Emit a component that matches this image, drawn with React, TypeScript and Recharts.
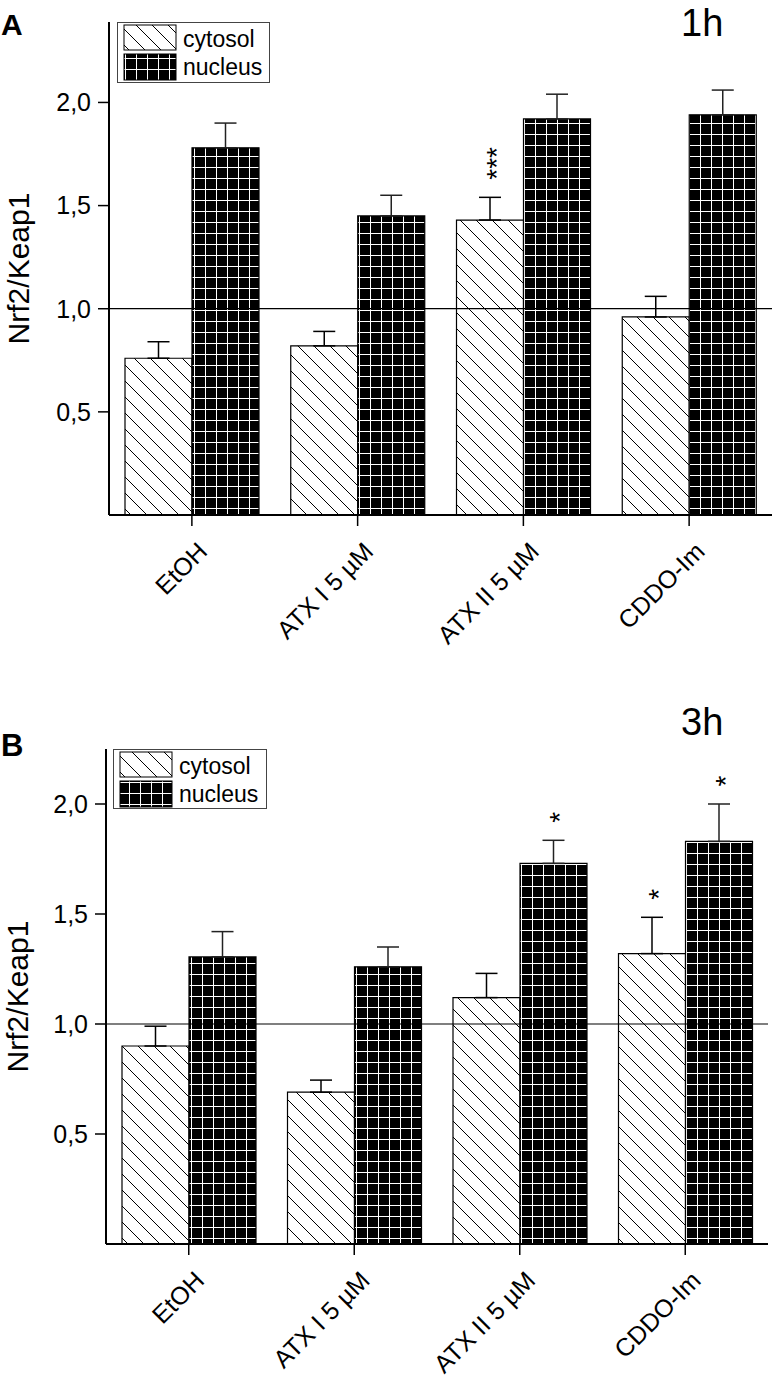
import React from "react";
import {
  Bar,
  BarChart,
  ErrorBar,
  Label,
  LabelList,
  Legend,
  ReferenceLine,
  XAxis,
  YAxis,
} from "recharts";

const FONT = '"Liberation Sans", Arial, Helvetica, sans-serif';

const groups = ["EtOH", "ATX I 5 µM", "ATX II 5 µM", "CDDO-Im"];
const yTicks = [0.5, 1, 1.5, 2];

// 1h
const cytosol1h = [0.76, 0.82, 1.43, 0.96];
const cytosolErr1h = [0.08, 0.07, 0.11, 0.1];
const nucleus1h = [1.78, 1.45, 1.92, 1.94];
const nucleusErr1h = [0.12, 0.1, 0.12, 0.12];
const cytosolSig1h = ["", "", "***", ""];
const nucleusSig1h = ["", "", "", ""];

// 3h
const cytosol3h = [0.9, 0.69, 1.12, 1.32];
const cytosolErr3h = [0.09, 0.055, 0.11, 0.165];
const nucleus3h = [1.305, 1.26, 1.73, 1.83];
const nucleusErr3h = [0.115, 0.09, 0.105, 0.17];
const cytosolSig3h = ["", "", "", "*"];
const nucleusSig3h = ["", "", "*", "*"];

type Row = {
  name: string;
  cyt: number;
  cytErr: number[];
  nuc: number;
  nucErr: number[];
  cytSig: string;
  nucSig: string;
};

function buildRows(
  cyt: number[],
  cytErr: number[],
  nuc: number[],
  nucErr: number[],
  cytSig: string[],
  nucSig: string[]
): Row[] {
  return groups.map((name, i) => ({
    name,
    cyt: cyt[i],
    cytErr: [0, cytErr[i]],
    nuc: nuc[i],
    nucErr: [0, nucErr[i]],
    cytSig: cytSig[i],
    nucSig: nucSig[i],
  }));
}

const rows1h = buildRows(cytosol1h, cytosolErr1h, nucleus1h, nucleusErr1h, cytosolSig1h, nucleusSig1h);
const rows3h = buildRows(cytosol3h, cytosolErr3h, nucleus3h, nucleusErr3h, cytosolSig3h, nucleusSig3h);

function CategoryTick(props: any) {
  const { x, y, payload } = props;
  const ax = x + 17;
  const ay = y + 25;
  return (
    <text
      x={ax}
      y={ay}
      transform={`rotate(-45 ${ax} ${ay})`}
      textAnchor="end"
      fontFamily={FONT}
      fontSize={25}
      fill="#000"
    >
      {payload.value}
    </text>
  );
}

// stars sit above the error bar; bar height / value gives px per unit.
// drawn as one vertical string so stacked stars stay one text
function starLabel(rows: Row[], key: "cyt" | "nuc") {
  return (props: any) => {
    const { index, value } = props;
    if (!value) return null;
    const vb = props.viewBox ?? props;
    const row = rows[index];
    const errKey = key === "cyt" ? "cytErr" : "nucErr";
    const perUnit = Math.abs(vb.height) / row[key];
    const errTop = vb.y - row[errKey][1] * perUnit;
    const cx = vb.x + vb.width / 2;
    const n = String(value).length;
    const midY = errTop - 23 - ((n - 1) * 11) / 2;
    const bx = cx + 16;
    return (
      <text
        x={bx}
        y={midY}
        transform={`rotate(-90 ${bx} ${midY})`}
        fontFamily={FONT}
        fontSize={28}
        textAnchor="middle"
        fill="#000"
      >
        {value}
      </text>
    );
  };
}

function LegendBox({ hatch, grid, w, h }: { hatch: string; grid: string; w: number; h: number }) {
  return (
    <div
      style={{
        width: w,
        height: h,
        border: "1px solid #444",
        boxSizing: "border-box",
        background: "#fff",
      }}
    >
      <svg width={w - 2} height={h - 2} style={{ display: "block" }}>
        <rect x={6} y={2} width={52} height={25} fill={`url(#${hatch})`} stroke="#000" strokeWidth={1} />
        <rect x={6} y={31} width={52} height={26} fill={`url(#${grid})`} stroke="#000" strokeWidth={1} />
        <text x={65} y={24} fontFamily={FONT} fontSize={23} fill="#000">
          cytosol
        </text>
        <text x={65} y={52} fontFamily={FONT} fontSize={23} fill="#000">
          nucleus
        </text>
      </svg>
    </div>
  );
}

interface PanelProps {
  rows: Row[];
  yMax: number;
  height: number;
  top: number;
  axisWidth: number;
  xAxisHeight: number;
  right: number;
  hatch: string;
  grid: string;
  legend: { left: number; top: number; width: number; height: number };
  labelX: number;
}

function Panel(p: PanelProps) {
  return (
    <BarChart
      width={774}
      height={p.height}
      data={p.rows}
      margin={{ top: p.top, right: p.right, bottom: 0, left: 0 }}
      barGap={0}
    >
      <XAxis
        dataKey="name"
        height={p.xAxisHeight}
        interval={0}
        tickSize={11}
        tickMargin={2}
        axisLine={{ stroke: "#000", strokeWidth: 2 }}
        tickLine={{ stroke: "#000", strokeWidth: 1.5 }}
        tick={<CategoryTick />}
      />
      <YAxis
        type="number"
        domain={[0, p.yMax]}
        ticks={yTicks}
        width={p.axisWidth}
        tickSize={11}
        tickMargin={7}
        tickFormatter={(v: number) => v.toFixed(1).replace(".", ",")}
        tick={{ fill: "#000", fontSize: 25, fontFamily: FONT }}
        axisLine={{ stroke: "#000", strokeWidth: 2 }}
        tickLine={{ stroke: "#000", strokeWidth: 1.5 }}
      >
        <Label
          content={(lp: any) => {
            const vb = lp.viewBox;
            const cy = vb.y + vb.height / 2;
            return (
              <text
                x={p.labelX}
                y={cy}
                transform={`rotate(-90 ${p.labelX} ${cy})`}
                textAnchor="middle"
                fontFamily={FONT}
                fontSize={30}
                fill="#000"
              >
                Nrf2/Keap1
              </text>
            );
          }}
        />
      </YAxis>
      <Bar dataKey="cyt" barSize={67} fill={`url(#${p.hatch})`} stroke="#000" strokeWidth={1.2} isAnimationActive={false}>
        <ErrorBar dataKey="cytErr" direction="y" width={11} stroke="#000" strokeWidth={1.5} />
        <LabelList dataKey="cytSig" content={starLabel(p.rows, "cyt")} />
      </Bar>
      <Bar dataKey="nuc" barSize={67} fill={`url(#${p.grid})`} stroke="#000" strokeWidth={1.2} isAnimationActive={false}>
        <ErrorBar dataKey="nucErr" direction="y" width={11} stroke="#222" strokeWidth={1.5} />
        <LabelList dataKey="nucSig" content={starLabel(p.rows, "nuc")} />
      </Bar>
      <ReferenceLine y={1} stroke="#000" strokeWidth={1.2} />
      <Legend
        layout="vertical"
        align="center"
        verticalAlign="middle"
        wrapperStyle={{ left: p.legend.left, top: p.legend.top, width: p.legend.width, height: p.legend.height }}
        content={() => <LegendBox hatch={p.hatch} grid={p.grid} w={p.legend.width} h={p.legend.height} />}
      />
    </BarChart>
  );
}

function Patterns() {
  const hatch = (id: string) => (
    <pattern id={id} patternUnits="userSpaceOnUse" width={16} height={16}>
      <rect width={16} height={16} fill="#fff" />
      <path d="M0,0 L16,16 M-2,14 L2,18 M14,-2 L18,2" stroke="#000" strokeWidth={1} />
    </pattern>
  );
  const grid = (id: string, x: number, y: number) => (
    <pattern id={id} patternUnits="userSpaceOnUse" x={x} y={y} width={11} height={11}>
      <rect width={11} height={11} fill="#000" />
      <path d="M0.5,0 V11 M0,0.5 H11" stroke="#fff" strokeWidth={1} />
    </pattern>
  );
  return (
    <svg width={0} height={0} style={{ position: "absolute" }}>
      <defs>
        {hatch("hatch1h")}
        {hatch("hatch3h")}
        {grid("grid1h", 7, 2)}
        {grid("grid3h", 4, 10)}
      </defs>
    </svg>
  );
}

export default function App() {
  return (
    <div
      style={{
        position: "absolute",
        left: 0,
        top: 0,
        width: 774,
        height: 1377,
        background: "#fff",
        overflow: "hidden",
      }}
    >
      <Patterns />
      <div style={{ position: "absolute", left: 0, top: 0 }}>
        <Panel
          rows={rows1h}
          yMax={2.39}
          height={690}
          top={22}
          axisWidth={109}
          xAxisHeight={175}
          right={2}
          hatch="hatch1h"
          grid="grid1h"
          legend={{ left: 117, top: 22, width: 153, height: 61 }}
          labelX={29}
        />
      </div>
      <div style={{ position: "absolute", left: 0, top: 700 }}>
        <Panel
          rows={rows3h}
          yMax={2.25}
          height={677}
          top={49}
          axisWidth={106}
          xAxisHeight={133}
          right={6}
          hatch="hatch3h"
          grid="grid3h"
          legend={{ left: 113, top: 49, width: 154, height: 60 }}
          labelX={28}
        />
      </div>
      <svg
        width={774}
        height={1377}
        style={{ position: "absolute", left: 0, top: 0, pointerEvents: "none" }}
      >
        <text x={1} y={35} fontFamily={FONT} fontSize={30} fontWeight="bold" fill="#000">
          A
        </text>
        <text x={681} y={36} fontFamily={FONT} fontSize={38} fill="#000">
          1h
        </text>
        <text x={1} y={756} fontFamily={FONT} fontSize={31} fontWeight="bold" fill="#000">
          B
        </text>
        <text x={681} y={735} fontFamily={FONT} fontSize={38} fill="#000">
          3h
        </text>
      </svg>
    </div>
  );
}
